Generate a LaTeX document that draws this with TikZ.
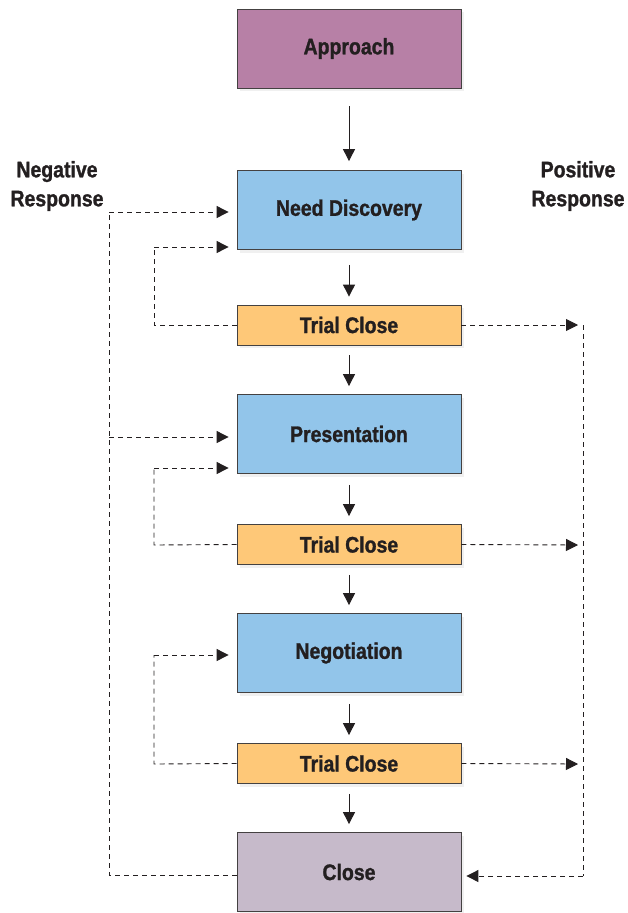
\documentclass[tikz,border=0pt]{standalone}
\usepackage{fontspec}
\setmainfont{Liberation Sans}[FakeStretch=0.865, BoldFeatures={FakeBold=1.2}]
\usetikzlibrary{arrows.meta,shadows}
\definecolor{approachc}{HTML}{B780A6}
\definecolor{stagec}{HTML}{92C5EA}
\definecolor{trialc}{HTML}{FEC878}
\definecolor{closec}{HTML}{C6BACA}
\definecolor{inkc}{HTML}{231F20}
\tikzset{
  stage/.style={draw=inkc!85, line width=0.8pt, minimum width=224pt,
    text=inkc, font=\bfseries\fontsize{22.5}{26}\selectfont,
    drop shadow={opacity=0.12, shadow xshift=3pt, shadow yshift=-3pt}},
  tall/.style={stage, minimum height=79pt},
  short/.style={stage, minimum height=40pt},
  flow/.style={draw=inkc, line width=0.9pt, -{Triangle[length=12pt,width=12pt]}},
  feedback/.style={draw=inkc, line width=0.9pt, dash pattern=on 5pt off 4pt,
    -{Triangle[length=12pt,width=12pt]}},
  feedline/.style={draw=inkc, line width=0.9pt, dash pattern=on 5pt off 4pt},
  side/.style={text=inkc, font=\bfseries\fontsize{22.5}{29}\selectfont, align=center}
}
\begin{document}
\begin{tikzpicture}[x=1pt, y=-1pt]
\useasboundingbox (0,0) rectangle (627,913);

% main stages
\node[tall, fill=approachc] (app) at (349,48.5) {Approach};
\node[tall, fill=stagec] (need) at (349,210) {Need Discovery};
\node[short, fill=trialc] (tc1) at (349,325) {Trial Close};
\node[tall, fill=stagec] (pres) at (349,434) {Presentation};
\node[short, fill=trialc] (tc2) at (349,544.5) {Trial Close};
\node[tall, fill=stagec] (nego) at (349,653) {Negotiation};
\node[short, fill=trialc] (tc3) at (349,763.5) {Trial Close};
\node[tall, fill=closec] (close) at (349,872) {Close};

% side labels
\node[side] (neg) at (57,186) {Negative\\Response};
\node[side] (pos) at (578,186) {Positive\\Response};

% forward flow
\draw[flow, shorten <=18pt, shorten >=9pt] (app) -- (need);
\draw[flow, shorten <=15pt, shorten >=8pt] (need) -- (tc1);
\draw[flow, shorten <=10pt, shorten >=8pt] (tc1) -- (pres);
\draw[flow, shorten <=11pt, shorten >=8pt] (pres) -- (tc2);
\draw[flow, shorten <=10pt, shorten >=8pt] (tc2) -- (nego);
\draw[flow, shorten <=11pt, shorten >=8pt] (nego) -- (tc3);
\draw[flow, shorten <=10pt, shorten >=8pt] (tc3) -- (close);

% negative response line
\coordinate (nb) at (109,875);
\coordinate (nt) at (109,212);
\coordinate (np) at (109,437);
\draw[feedline] (close.west |- nb) -- (nb) -- (nt);
\draw[feedback, shorten >=8pt] (nt) -- (need.west |- nt);
\draw[feedback, shorten >=8pt] (np) -- (pres.west |- np);

% trial close loops back to previous stage
\coordinate (l1) at (154,325);
\coordinate (l1t) at (154,247);
\draw[feedline] (tc1.west) -- (l1) -- (l1t);
\draw[feedback, shorten >=8pt] (l1t) -- (need.west |- l1t);
\coordinate (l2) at (154,545);
\coordinate (l2t) at (154,468);
\draw[feedline] (tc2.west) -- (l2) -- (l2t);
\draw[feedback, shorten >=8pt] (l2t) -- (pres.west |- l2t);
\coordinate (l3) at (154,764);
\coordinate (l3t) at (154,655);
\draw[feedline] (tc3.west) -- (l3) -- (l3t);
\draw[feedback, shorten >=8pt] (l3t) -- (nego.west |- l3t);

% positive response line
\coordinate (p1) at (578,325);
\coordinate (p2) at (578,545);
\coordinate (p3) at (578,764);
\coordinate (pt) at (583,325);
\coordinate (pb) at (583,876);
\draw[feedback] (tc1.east) -- (p1);
\draw[feedback] (tc2.east) -- (p2);
\draw[feedback] (tc3.east) -- (p3);
\draw[feedline] (pt) -- (pb);
\draw[feedback, shorten >=5pt] (pb) -- (close.east |- pb);
\end{tikzpicture}
\end{document}
